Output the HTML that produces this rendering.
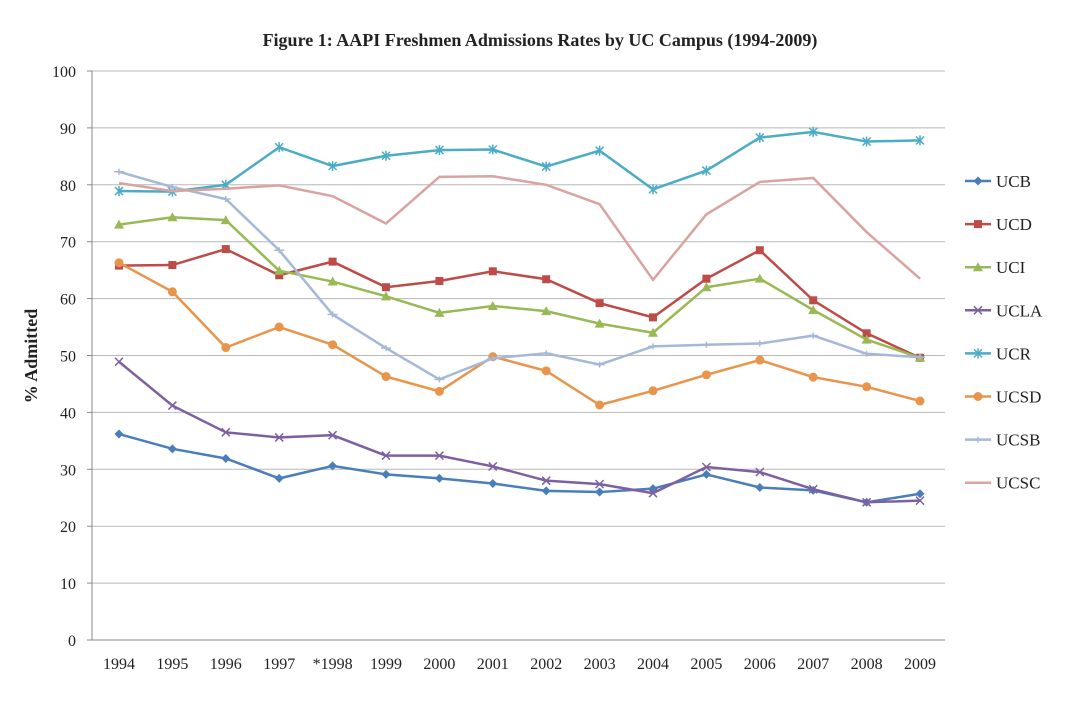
<!DOCTYPE html>
<html><head><meta charset="utf-8"><style>
body{margin:0;background:#fff;font-family:"Liberation Serif",serif;}
svg text{font-family:"Liberation Serif",serif;fill:#222;}
</style></head><body>
<svg id="chart" width="1080" height="704" xmlns="http://www.w3.org/2000/svg">
<text x="540" y="46" text-anchor="middle" font-size="18" font-weight="bold">Figure 1: AAPI Freshmen Admissions Rates by UC Campus (1994-2009)</text>
<text transform="translate(37,356) rotate(-90)" text-anchor="middle" font-size="18" font-weight="bold">% Admitted</text>
<g id="grid"></g><g id="axes"></g><g id="series"></g><g id="legend"></g>
</svg>
<script>
const years=["1994","1995","1996","1997","*1998","1999","2000","2001","2002","2003","2004","2005","2006","2007","2008","2009"];
const yTicks=[0,10,20,30,40,50,60,70,80,90,100];
const UCB=[36.2,33.6,31.9,28.4,30.6,29.1,28.4,27.5,26.2,26.0,26.6,29.1,26.8,26.3,24.2,25.7];
const UCD=[65.8,65.9,68.7,64.1,66.5,62.0,63.1,64.8,63.4,59.2,56.7,63.5,68.5,59.7,53.9,49.6];
const UCI=[73.0,74.3,73.8,64.9,63.0,60.4,57.5,58.7,57.8,55.6,54.0,62.0,63.5,58.0,52.8,49.6];
const UCLA=[48.9,41.2,36.5,35.6,36.0,32.4,32.4,30.5,28.0,27.4,25.8,30.4,29.5,26.5,24.2,24.5];
const UCR=[78.9,78.8,80.0,86.6,83.3,85.1,86.1,86.2,83.2,86.0,79.2,82.5,88.3,89.3,87.6,87.8];
const UCSD=[66.3,61.2,51.4,55.0,51.9,46.3,43.7,49.8,47.3,41.3,43.8,46.6,49.2,46.2,44.5,42.0];
const UCSB=[82.3,79.6,77.5,68.5,57.2,51.3,45.8,49.5,50.4,48.4,51.6,51.9,52.1,53.5,50.3,49.7];
const UCSC=[80.3,78.9,79.3,79.9,78.0,73.2,81.4,81.5,80.0,76.6,63.3,74.8,80.5,81.2,71.7,63.5];
const seriesNames=["UCB","UCD","UCI","UCLA","UCR","UCSD","UCSB","UCSC"];
const seriesData=[UCB,UCD,UCI,UCLA,UCR,UCSD,UCSB,UCSC];
const colors=["#4a7ebb","#be4b48","#98b954","#7d60a0","#4bacc6","#e8954b","#a5b8d8","#d9a3a0"];
const markers=["diamond","square","triangle","x","star","circle","plus","none"];
const NS="http://www.w3.org/2000/svg";
const L=92,R=945,T=71,B=640;
const X=i=>119+i*(920-119)/(years.length-1);
const Y=v=>B-(v/100)*(B-T);
function mk(tag,attrs,parent){const e=document.createElementNS(NS,tag);for(const k in attrs)e.setAttribute(k,attrs[k]);parent.appendChild(e);return e;}
const grid=document.getElementById('grid'),axes=document.getElementById('axes'),ser=document.getElementById('series'),leg=document.getElementById('legend');
yTicks.forEach(t=>{
 if(t>0){const g=mk('line',{x1:L,x2:R,y1:Y(t),y2:Y(t),stroke:'#b8b8b8','stroke-width':1},grid);
 
 }
 const tk=mk('line',{x1:L-5,x2:L,y1:Y(t),y2:Y(t),stroke:'#888'},axes);
 
 
 const lb=mk('text',{x:L-16,y:Y(t)+6,'text-anchor':'end','font-size':16},axes);lb.textContent=t;
 
 
});
const ya=mk('line',{x1:L,x2:L,y1:T,y2:B,stroke:'#888'},axes);


const xa=mk('line',{x1:L,x2:R,y1:B,y2:B,stroke:'#888'},axes);


years.forEach((yr,i)=>{
 const lb=mk('text',{x:X(i),y:669,'text-anchor':'middle','font-size':16},axes);lb.textContent=yr;
 
 
});
function marker(type,x,y,c,parent){
 const s=4.5;let e;
 if(type==='diamond')e=mk('polygon',{points:`${x},${y-s} ${x+s},${y} ${x},${y+s} ${x-s},${y}`,fill:c},parent);
 else if(type==='square')e=mk('rect',{x:x-4,y:y-4,width:8,height:8,fill:c},parent);
 else if(type==='triangle')e=mk('polygon',{points:`${x},${y-5} ${x+5},${y+4} ${x-5},${y+4}`,fill:c},parent);
 else if(type==='circle')e=mk('circle',{cx:x,cy:y,r:4.5,fill:c},parent);
 else if(type==='x')e=mk('path',{d:`M${x-4},${y-4}L${x+4},${y+4}M${x-4},${y+4}L${x+4},${y-4}`,stroke:c,'stroke-width':1.5},parent);
 else if(type==='star')e=mk('path',{d:`M${x-4},${y-4}L${x+4},${y+4}M${x-4},${y+4}L${x+4},${y-4}M${x},${y-5}L${x},${y+5}`,stroke:c,'stroke-width':1.5},parent);
 else if(type==='plus')e=mk('path',{d:`M${x-5},${y}L${x+5},${y}M${x},${y-3}L${x},${y+3}`,stroke:c,'stroke-width':1.5},parent);
 return e;
}
seriesNames.forEach((n,si)=>{
 const g=mk('g',{},ser);
 
 
 const d=seriesData[si].map((v,i)=>(i?'L':'M')+X(i)+','+Y(v)).join('');
 const p=mk('path',{d:d,fill:'none',stroke:colors[si],'stroke-width':2.5},g);
 
 
 seriesData[si].forEach((v,i)=>{const m=marker(markers[si],X(i),Y(v),colors[si],g);
  if(m){
  }});
 const ly=181+si*43.1;
 const lg=mk('g',{},leg);
 
 
 mk('line',{x1:965,x2:991,y1:ly,y2:ly,stroke:colors[si],'stroke-width':2.5},lg);
 marker(markers[si],978,ly,colors[si],lg);
 const t=mk('text',{x:996,y:ly+6,'font-size':17},lg);t.textContent=n;
});
</script>
</body></html>
